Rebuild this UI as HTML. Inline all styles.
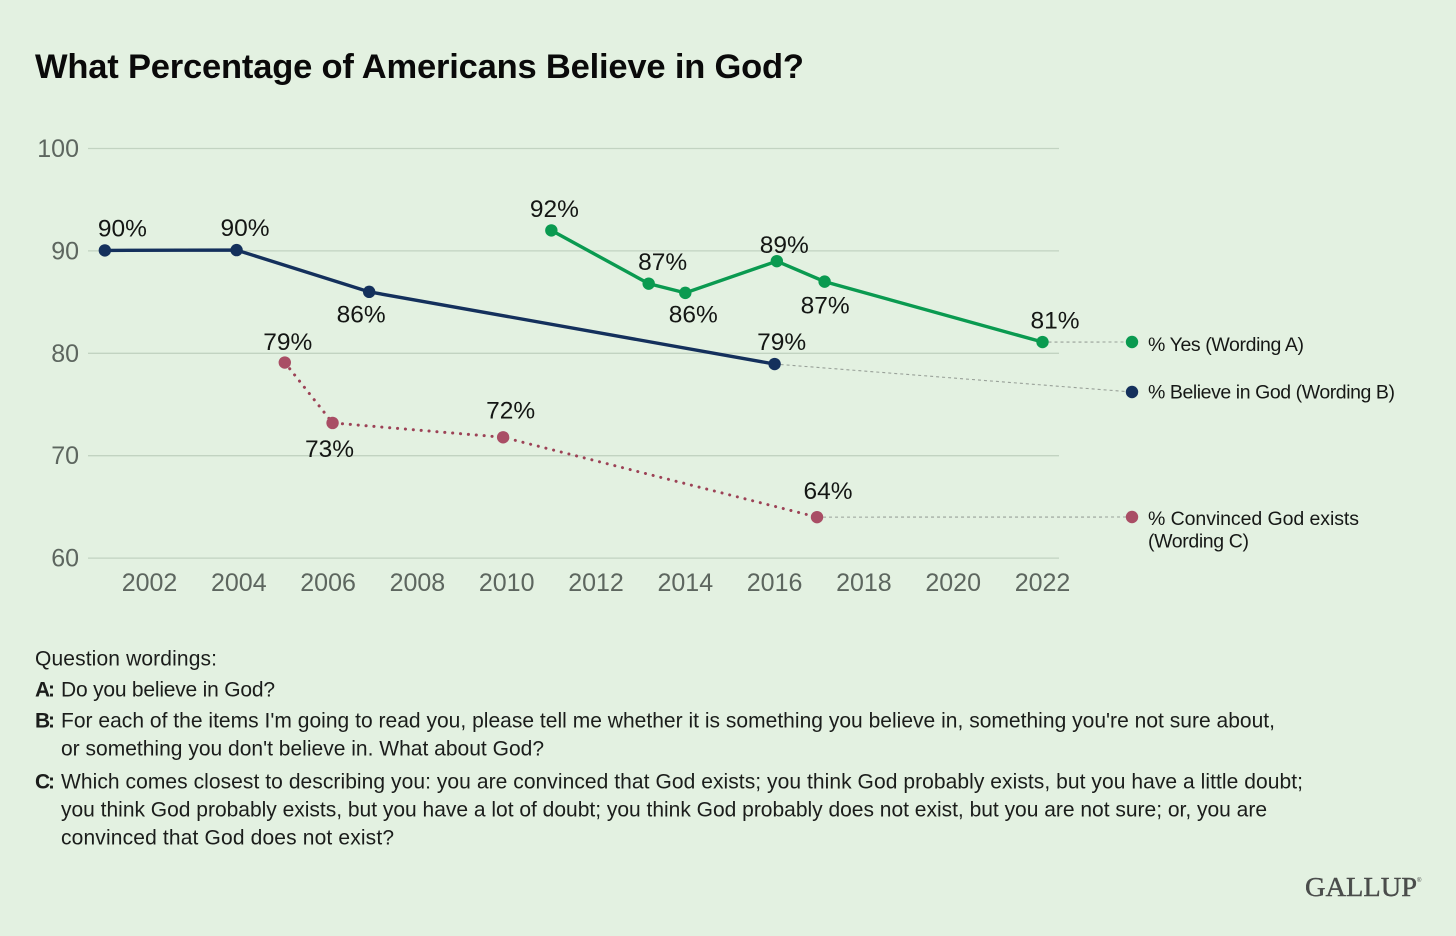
<!DOCTYPE html>
<html lang="en">
<head>
<meta charset="utf-8">
<title>What Percentage of Americans Believe in God?</title>
<style>
html,body{margin:0;padding:0;background:#e3f1e1;}
svg{display:block;font-family:"Liberation Sans",sans-serif;}
.foot{font-size:21px;fill:#1b1d1b;}
.key{font-size:21px;font-weight:bold;fill:#1b1d1b;}
.legend{font-size:19.5px;fill:#161816;}
</style>
</head>
<body>
<svg id="chart" xmlns="http://www.w3.org/2000/svg" width="1456" height="936" viewBox="0 0 1456 936">
  <rect x="0" y="0" width="1456" height="936" fill="#e3f1e1"/>
  <text x="35" y="78" font-size="34.5" font-weight="bold" fill="#0a0a0a" textLength="769" lengthAdjust="spacing">What Percentage of Americans Believe in God?</text>
  <g id="grid"></g>
  <g id="yaxis"></g>
  <g id="xaxis"></g>
  <g id="connectors"></g>
  <g id="series"></g>
  <g id="legend">
    <text class="legend" x="1148" y="351" textLength="156" lengthAdjust="spacing">% Yes (Wording A)</text>
    <text class="legend" x="1148" y="398.5" textLength="247" lengthAdjust="spacing">% Believe in God (Wording B)</text>
    <text class="legend" x="1148" y="525" textLength="211" lengthAdjust="spacing">% Convinced God exists</text>
    <text class="legend" x="1148" y="547.5" textLength="101" lengthAdjust="spacing">(Wording C)</text>
  </g>
  <g>
    <text class="foot" x="35" y="665.5" textLength="182" lengthAdjust="spacing">Question wordings:</text>
    <text class="key" x="35" y="696.5" textLength="20" lengthAdjust="spacing">A:</text>
    <text class="foot" x="61" y="696.5" textLength="214" lengthAdjust="spacing">Do you believe in God?</text>
    <text class="key" x="35" y="727.5" textLength="20" lengthAdjust="spacing">B:</text>
    <text class="foot" x="61" y="727.5" textLength="1214" lengthAdjust="spacing">For each of the items I'm going to read you, please tell me whether it is something you believe in, something you're not sure about,</text>
    <text class="foot" x="61" y="755.5" textLength="483" lengthAdjust="spacing">or something you don't believe in. What about God?</text>
    <text class="key" x="35" y="788.5" textLength="20" lengthAdjust="spacing">C:</text>
    <text class="foot" x="61" y="788.5" textLength="1242" lengthAdjust="spacing">Which comes closest to describing you: you are convinced that God exists; you think God probably exists, but you have a little doubt;</text>
    <text class="foot" x="61" y="816.5" textLength="1206" lengthAdjust="spacing">you think God probably exists, but you have a lot of doubt; you think God probably does not exist, but you are not sure; or, you are</text>
    <text class="foot" x="61" y="844.5" textLength="333" lengthAdjust="spacing">convinced that God does not exist?</text>
  </g>
  <g>
    <text x="1305" y="896" font-family="'Liberation Serif',serif" font-size="27" fill="#4a4c4b" stroke="#4a4c4b" stroke-width="0.4" textLength="112" lengthAdjust="spacingAndGlyphs">GALLUP</text>
    <text x="1417" y="882" font-size="6" fill="#4a4c4b">®</text>
  </g>
</svg>
<script>
// Axis tick labels
const yTicks = [100, 90, 80, 70, 60];
const xTicks = [2002, 2004, 2006, 2008, 2010, 2012, 2014, 2016, 2018, 2020, 2022];

// Wording A: % Yes
const yearsA = [2011, 2013.18, 2014, 2016.05, 2017.12, 2022];
const valuesA = [92, 86.8, 85.9, 89, 87, 81.1];
const labelsA = ['92%', '87%', '86%', '89%', '87%', '81%'];

// Wording B: % Believe in God
const yearsB = [2001, 2003.95, 2006.92, 2016];
const valuesB = [90.05, 90.08, 86, 78.95];
const labelsB = ['90%', '90%', '86%', '79%'];

// Wording C: % Convinced God exists
const yearsC = [2005.03, 2006.1, 2009.92, 2016.95];
const valuesC = [79.1, 73.2, 71.8, 64];
const labelsC = ['79%', '73%', '72%', '64%'];

const SVG_NS = 'http://www.w3.org/2000/svg';
function xScale(year) { return 149.5 + (year - 2002) * 44.65; }
function yScale(value) { return 148.5 + (100 - value) * 10.24; }
function make(tag, parent, attrs) {
  const el = document.createElementNS(SVG_NS, tag);
  Object.keys(attrs).forEach(function (k) { el.setAttribute(k, attrs[k]); });
  parent.appendChild(el);
  return el;
}

const grid = document.getElementById('grid');
const yAxis = document.getElementById('yaxis');
yTicks.forEach(function (t) {
  const line = make('line', grid, { x1: 88, x2: 1059, y1: yScale(t), y2: yScale(t), stroke: '#c2d3c1', 'stroke-width': 1.3 });
  
  
  const label = make('text', yAxis, { x: 79, y: yScale(t) + 8.5, 'text-anchor': 'end', 'font-size': 25, fill: '#5d665f' });
  label.textContent = t;
  
  
});

const xAxis = document.getElementById('xaxis');
xTicks.forEach(function (t) {
  const label = make('text', xAxis, { x: xScale(t), y: 591, 'text-anchor': 'middle', 'font-size': 25, fill: '#5d665f' });
  label.textContent = t;
  
  
});

function drawConnector(key, years, values, legendY) {
  const n = years.length - 1;
  const line = make('line', document.getElementById('connectors'), {
    x1: xScale(years[n]), y1: yScale(values[n]), x2: 1132, y2: legendY,
    stroke: '#99a199', 'stroke-width': 1.1, 'stroke-dasharray': '3 3'
  });
  
  
  const dot = make('circle', document.getElementById('legend'), { cx: 1132, cy: legendY, r: 6.2 });
  dot.setAttribute('fill', seriesColor[key]);
  
  
}

const seriesColor = { 'wording-a': '#0a9a50', 'wording-b': '#14305c', 'wording-c': '#a94e65' };

function drawSeries(key, years, values, labels, offsets, dash) {
  const root = document.getElementById('series');
  const g = make('g', root, {});
  
  
  const pts = years.map(function (y, i) { return xScale(y) + ',' + yScale(values[i]); }).join(' ');
  const line = make('polyline', g, { points: pts, fill: 'none', stroke: seriesColor[key] });
  line.setAttribute('stroke-width', dash ? 3 : 3.4);
  if (dash) {
    line.setAttribute('stroke-dasharray', '0.1 7.8');
    line.setAttribute('stroke-linecap', 'round');
    line.setAttribute('stroke', '#9c4256');
  }
  
  
  years.forEach(function (y, i) {
    const dot = make('circle', g, { cx: xScale(y), cy: yScale(values[i]), r: 6.2, fill: seriesColor[key] });
    
    
    const label = make('text', g, {
      x: xScale(y) + offsets[i][0], y: yScale(values[i]) + offsets[i][1],
      'text-anchor': 'middle', 'font-size': 24.5, fill: '#141614'
    });
    label.textContent = labels[i];
    
    
  });
}

drawConnector('wording-a', yearsA, valuesA, 342);
drawConnector('wording-b', yearsB, valuesB, 392);
drawConnector('wording-c', yearsC, valuesC, 517);

drawSeries('wording-b', yearsB, valuesB, labelsB, [[17.5, -14], [8.5, -14], [-8, 30.5], [7, -14]], false);
drawSeries('wording-a', yearsA, valuesA, labelsA, [[3, -13.5], [14, -13.5], [8, 29.5], [7.5, -8], [0.5, 32], [12.5, -13.5]], false);
drawSeries('wording-c', yearsC, valuesC, labelsC, [[3, -12.5], [-3, 34], [7.5, -19], [11, -18]], true);
</script>
</body>
</html>
